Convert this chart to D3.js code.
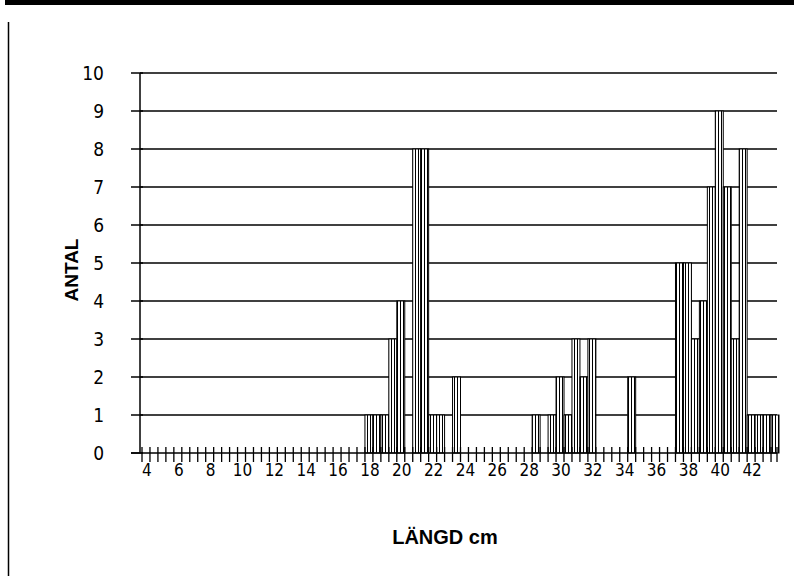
<!DOCTYPE html>
<html>
<head>
<meta charset="utf-8">
<script src="https://cdn.jsdelivr.net/npm/d3@7"></script>
<style>
  html, body { margin: 0; padding: 0; background: #fff; }
  #chart { width: 794px; height: 582px; }
  text { font-family: "Liberation Sans", Arial, sans-serif; fill: #000; }
  .tick-label { font-family: "Liberation Sans Narrow", "DejaVu Sans Condensed", "Liberation Sans", sans-serif; }
</style>
</head>
<body>
<div id="chart"></div>
<script>
// Length classes (cm), half-cm steps
const lengths = [
  4, 4.5, 5, 5.5, 6, 6.5, 7, 7.5, 8, 8.5, 9, 9.5, 10, 10.5, 11, 11.5,
  12, 12.5, 13, 13.5, 14, 14.5, 15, 15.5, 16, 16.5, 17, 17.5, 18, 18.5, 19, 19.5,
  20, 20.5, 21, 21.5, 22, 22.5, 23, 23.5, 24, 24.5, 25, 25.5, 26, 26.5, 27, 27.5,
  28, 28.5, 29, 29.5, 30, 30.5, 31, 31.5, 32, 32.5, 33, 33.5, 34, 34.5, 35, 35.5,
  36, 36.5, 37, 37.5, 38, 38.5, 39, 39.5, 40, 40.5, 41, 41.5, 42, 42.5, 43, 43.5
];

// Number of fish per length class (ANTAL)
const counts = [
  0, 0, 0, 0, 0, 0, 0, 0, 0, 0, 0, 0, 0, 0, 0, 0,
  0, 0, 0, 0, 0, 0, 0, 0, 0, 0, 0, 0, 1, 1, 1, 3,
  4, 0, 8, 8, 1, 1, 0, 2, 0, 0, 0, 0, 0, 0, 0, 0,
  0, 1, 0, 1, 2, 1, 3, 2, 3, 0, 0, 0, 0, 2, 0, 0,
  0, 0, 0, 5, 5, 3, 4, 7, 9, 7, 3, 8, 1, 1, 1, 1
];

// Tick values
const yTicks = [0, 1, 2, 3, 4, 5, 6, 7, 8, 9, 10];
const xLabels = [4, 6, 8, 10, 12, 14, 16, 18, 20, 22, 24, 26, 28, 30, 32, 34, 36, 38, 40, 42];

const data = lengths.map((l, i) => ({ length: l, count: counts[i] }));

const width = 794, height = 582;
const plot = { left: 142, right: 779, top: 73, bottom: 453 };
const axisX = 140;

const svg = d3.select("#chart")
  .append("svg")
  .attr("width", width)
  .attr("height", height);

// vertical line hatch used for the bars
const defs = svg.append("defs");
const pat = defs.append("pattern")
  .attr("id", "vlines")
  .attr("patternUnits", "userSpaceOnUse")
  .attr("width", 3)
  .attr("height", 4);
pat.append("rect").attr("width", 3).attr("height", 4).attr("fill", "#fff");
pat.append("line")
  .attr("x1", 1.5).attr("x2", 1.5).attr("y1", 0).attr("y2", 4)
  .attr("stroke", "#000").attr("stroke-width", 1);

// page frame bits
svg.append("rect").attr("x", 5).attr("y", 0).attr("width", width - 5).attr("height", 5).attr("fill", "#000");
svg.append("line")
  .attr("x1", 8.5).attr("x2", 8.5).attr("y1", 22).attr("y2", 576)
  .attr("stroke", "#000").attr("stroke-width", 1.5);

const x = d3.scaleBand()
  .domain(lengths)
  .range([plot.left, plot.right])
  .padding(0);

const y = d3.scaleLinear()
  .domain([0, 10])
  .range([plot.bottom, plot.top]);

// horizontal gridlines
svg.append("g")
  .selectAll("line")
  .data(yTicks.filter(d => d > 0))
  .enter().append("line")
  .attr("x1", axisX)
  .attr("x2", 777)
  .attr("y1", d => y(d))
  .attr("y2", d => y(d))
  .attr("stroke", "#000")
  .attr("stroke-width", 1.6);

// bars
svg.append("g")
  .selectAll("rect")
  .data(data.filter(d => d.count > 0))
  .enter().append("rect")
  .attr("x", d => x(d.length))
  .attr("y", d => y(d.count))
  .attr("width", x.bandwidth())
  .attr("height", d => y(0) - y(d.count))
  .attr("fill", "url(#vlines)")
  .attr("stroke", "#000")
  .attr("stroke-width", 1);

// y axis line and cross ticks
svg.append("line")
  .attr("x1", axisX).attr("x2", axisX)
  .attr("y1", y(10)).attr("y2", y(0))
  .attr("stroke", "#000").attr("stroke-width", 1.5);

svg.append("g")
  .selectAll("line")
  .data(yTicks)
  .enter().append("line")
  .attr("x1", axisX - 9)
  .attr("x2", axisX + 3)
  .attr("y1", d => y(d))
  .attr("y2", d => y(d))
  .attr("stroke", "#000")
  .attr("stroke-width", 1.5);

svg.append("g")
  .selectAll("text")
  .data(yTicks)
  .enter().append("text")
  .attr("class", "tick-label")
  .attr("x", 104)
  .attr("y", d => y(d))
  .attr("dy", "0.36em")
  .attr("text-anchor", "end")
  .attr("font-size", 19)
  .text(d => d);

// x axis line and ticks between categories
svg.append("line")
  .attr("x1", axisX - 9).attr("x2", 777)
  .attr("y1", y(0)).attr("y2", y(0))
  .attr("stroke", "#000").attr("stroke-width", 1.5);

const bounds = lengths.map(l => x(l)).concat([777]);
svg.append("g")
  .selectAll("line")
  .data(bounds)
  .enter().append("line")
  .attr("x1", d => d)
  .attr("x2", d => d)
  .attr("y1", y(0) - 6)
  .attr("y2", y(0) + 9)
  .attr("stroke", "#000")
  .attr("stroke-width", 1.3);

svg.append("g")
  .selectAll("text")
  .data(xLabels)
  .enter().append("text")
  .attr("class", "tick-label")
  .attr("x", d => x(d) + x.bandwidth() / 2 + 1)
  .attr("y", 476)
  .attr("text-anchor", "middle")
  .attr("font-size", 17)
  .text(d => d);

// axis titles
svg.append("text")
  .attr("transform", "translate(78,270) rotate(-90)")
  .attr("text-anchor", "middle")
  .attr("font-size", 19)
  .attr("font-weight", "bold")
  .text("ANTAL");

svg.append("text")
  .attr("x", 445)
  .attr("y", 544)
  .attr("text-anchor", "middle")
  .attr("font-size", 20)
  .attr("font-weight", "bold")
  .text("LÄNGD cm");
</script>
</body>
</html>
